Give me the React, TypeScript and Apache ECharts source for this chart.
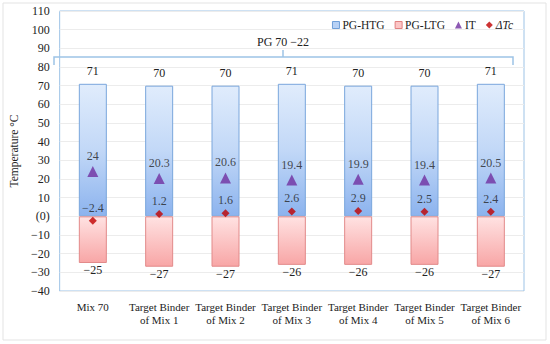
import React, { useEffect, useRef } from "react";
import * as echarts from "echarts";

const categories = [
  "Mix 70",
  "Target Binder\nof Mix 1",
  "Target Binder\nof Mix 2",
  "Target Binder\nof Mix 3",
  "Target Binder\nof Mix 4",
  "Target Binder\nof Mix 5",
  "Target Binder\nof Mix 6",
];
const pgHTG = [71, 70, 70, 71, 70, 70, 71];
const pgLTG = [-25, -27, -27, -26, -26, -26, -27];
const itValues = [24, 20.3, 20.6, 19.4, 19.9, 19.4, 20.5];
const dTcValues = [-2.4, 1.2, 1.6, 2.6, 2.9, 2.5, 2.4];

const FONT = "Liberation Serif";
const fmt = (v: number) => (v < 0 ? "\u2212" + Math.abs(v) : String(v));

export default function App() {
  const ref = useRef<HTMLDivElement>(null);
  useEffect(() => {
    if (!ref.current) return;
    const chart = echarts.init(ref.current, undefined, { renderer: "svg" });
    const bracketColor = "#9DC3E6";
    const lbl = { fontFamily: FONT, fontSize: 12, color: "#222" };
    const legText = { fontFamily: FONT, fontSize: 11.5, color: "#222", padding: [0, 0, 0, -2] };
    chart.setOption({
      animation: false,
      backgroundColor: "#fff",
      textStyle: { fontFamily: FONT },
      grid: {
        left: 47,
        right: 26,
        top: 11,
        bottom: 53,
        show: true,
        borderColor: "#9DC3E6",
        borderWidth: 1,
      },
      legend: {
        top: 14,
        right: 32,
        itemWidth: 7,
        itemHeight: 7,
        itemGap: 10,
        textStyle: legText,
        data: [
          { name: "PG-HTG", icon: "rect", itemStyle: { color: "#b7d1f5", borderColor: "#6f9fd8", borderWidth: 1 } },
          { name: "PG-LTG", icon: "rect", itemStyle: { color: "#fcc5c5", borderColor: "#e08080", borderWidth: 1 } },
          { name: "IT", icon: "triangle" },
          { name: "\u0394Tc", icon: "diamond", textStyle: { ...legText, fontStyle: "italic" } },
        ],
      },
      xAxis: {
        type: "category",
        data: categories,
        axisLine: { show: false },
        axisTick: { show: false },
        axisLabel: {
          ...lbl,
          fontSize: 11,
          margin: 9,
          lineHeight: 13,
          interval: 0,
        },
      },
      yAxis: {
        type: "value",
        min: -40,
        max: 110,
        interval: 10,
        name: "Temperature \u00B0C",
        nameLocation: "middle",
        nameGap: 27,
        nameTextStyle: { fontFamily: FONT, fontSize: 11.5, color: "#222" },
        axisLine: { show: false },
        axisTick: { show: false },
        splitLine: { lineStyle: { color: "#ececec" } },
        axisLabel: {
          ...lbl,
          margin: 10,
          formatter: (v: number) => (v === 0 ? "(0)" : fmt(v)),
        },
      },
      series: [
        {
          name: "PG-HTG",
          type: "bar",
          stack: "pg",
          barWidth: 28,
          data: pgHTG,
          itemStyle: {
            color: new echarts.graphic.LinearGradient(0, 0, 0, 1, [
              { offset: 0, color: "#e0ecfc" },
              { offset: 0.5, color: "#c2d8f7" },
              { offset: 1, color: "#8cb3ee" },
            ]),
            borderColor: "#7aa6dc",
            borderWidth: 1,
          },
          label: {
            show: true,
            position: "top",
            distance: 7,
            ...lbl,
            formatter: (p: any) => fmt(p.value),
          },
        },
        {
          name: "PG-LTG",
          type: "bar",
          stack: "pg",
          barWidth: 28,
          data: pgLTG,
          itemStyle: {
            color: new echarts.graphic.LinearGradient(0, 0, 0, 1, [
              { offset: 0, color: "#ffe2e2" },
              { offset: 1, color: "#f8a6a6" },
            ]),
            borderColor: "#e28a8a",
            borderWidth: 1,
          },
          label: {
            show: true,
            position: "bottom",
            distance: 1,
            ...lbl,
            formatter: (p: any) => fmt(p.value),
          },
        },
        {
          name: "IT",
          type: "scatter",
          symbol: "triangle",
          symbolSize: 11,
          data: itValues,
          itemStyle: { color: "#7030A0" },
          z: 5,
          label: {
            show: true,
            position: "top",
            distance: 4,
            ...lbl,
            formatter: (p: any) => fmt(p.value),
          },
        },
        {
          name: "\u0394Tc",
          type: "scatter",
          symbol: "diamond",
          symbolSize: 8,
          data: dTcValues,
          itemStyle: { color: "#C00000" },
          z: 5,
          label: {
            show: true,
            position: "top",
            distance: 3,
            ...lbl,
            formatter: (p: any) => fmt(p.value),
          },
        },
      ],
      graphic: [
        {
          type: "rect",
          shape: { x: 3, y: 3, width: 543, height: 337 },
          style: { fill: "none", stroke: "#e3e3e3", lineWidth: 1 },
          silent: true,
        },
        {
          type: "polyline",
          shape: { points: [[54, 65], [54, 57], [513, 57], [513, 65]] },
          style: { fill: "none", stroke: bracketColor, lineWidth: 1.5 },
          silent: true,
        },
        {
          type: "line",
          shape: { x1: 283, y1: 57, x2: 283, y2: 50 },
          style: { stroke: bracketColor, lineWidth: 1.5 },
          silent: true,
        },
        {
          type: "text",
          x: 283,
          y: 42,
          style: {
            text: "PG 70 \u221222",
            fontFamily: FONT,
            fontSize: 12,
            fill: "#222",
            align: "center",
            verticalAlign: "middle",
          },
          silent: true,
        },
      ],
    });
    return () => chart.dispose();
  }, []);
  return (
    <div
      ref={ref}
      style={{ position: "fixed", left: 0, top: 0, width: 550, height: 344 }}
    />
  );
}
